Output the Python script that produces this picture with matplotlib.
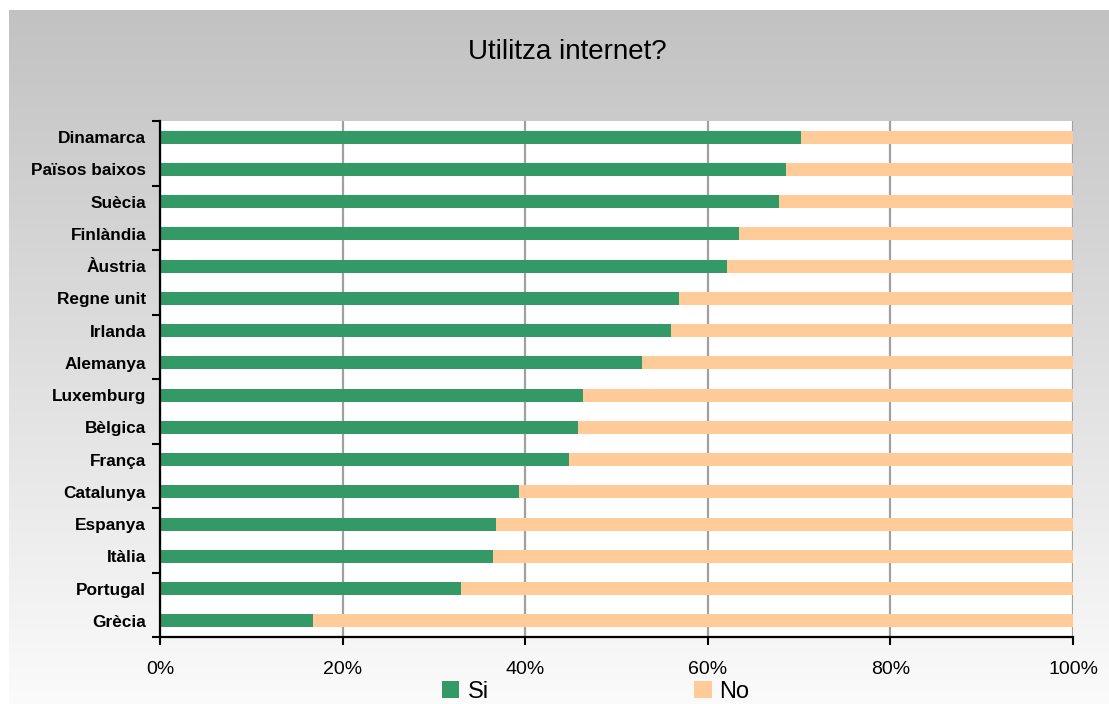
import matplotlib
matplotlib.use("Agg")
import matplotlib.pyplot as plt
import numpy as np
from matplotlib.ticker import FixedLocator, PercentFormatter

plt.rcParams['font.family'] = ['Liberation Sans', 'DejaVu Sans']

# data, top to bottom
countries = ["Dinamarca", "Països baixos", "Suècia", "Finlàndia", "Àustria",
             "Regne unit", "Irlanda", "Alemanya", "Luxemburg", "Bèlgica",
             "França", "Catalunya", "Espanya", "Itàlia", "Portugal", "Grècia"]
si = [70.2, 68.6, 67.8, 63.4, 62.1, 56.8, 56.0, 52.8,
      46.3, 45.8, 44.8, 39.3, 36.8, 36.5, 33.0, 16.8]
no = [100 - v for v in si]
x_ticks = [0, 20, 40, 60, 80, 100]

W, H = 1109, 704
fig = plt.figure(figsize=(W / 100, H / 100), dpi=100)
fig.patch.set_facecolor("white")

# gradient backdrop
bg = fig.add_axes([9 / W, 0, 1 - 9 / W, 1 - 10 / H], zorder=0)
grad = np.linspace(194, 251, 256).reshape(-1, 1) / 255.0
bg.imshow(np.dstack([grad, grad, grad]), aspect="auto", extent=[0, 1, 0, 1])
bg.set_axis_off()

ax = fig.add_axes([160 / W, 1 - 637 / H, (1073 - 160) / W, (637 - 121) / H], zorder=1)
ax.set_facecolor("white")

y = np.arange(len(countries))
ax.barh(y, si, height=0.4, color="#339966", label="Si", zorder=3)
ax.barh(y, no, left=si, height=0.4, color="#FFCC99", label="No", zorder=3)

ax.set_xlim(0, 100)
ax.set_ylim(len(countries) - 0.5, -0.5)

ax.set_xticks(x_ticks)
ax.xaxis.set_major_formatter(PercentFormatter(decimals=0))
ax.tick_params(axis="x", direction="out", length=6, width=1.5, pad=11,
               labelsize=14, colors="black")
ax.grid(axis="x", color="#a0a0a0", linewidth=1.6, zorder=1)

ax.set_yticks(y)
ax.set_yticklabels(countries, fontsize=12.4, fontweight="bold")
ax.tick_params(axis="y", which="major", length=0, pad=10)
ax.yaxis.set_minor_locator(FixedLocator(np.arange(-0.5, len(countries), 2)))
ax.tick_params(axis="y", which="minor", direction="out", length=6, width=1.5)

for s in ["top", "right"]:
    ax.spines[s].set_visible(False)
for s in ["left", "bottom"]:
    ax.spines[s].set_linewidth(1.6)
    ax.spines[s].set_zorder(4)

fig.text(567 / W, 1 - 59 / H, "Utilitza internet?", ha="center", va="baseline",
         fontsize=20)

fig.legend(loc="center left", bbox_to_anchor=(442 / W, 1 - 692 / H),
           bbox_transform=fig.transFigure, ncol=2, frameon=False, fontsize=17,
           handlelength=0.74, handleheight=0.74, handletextpad=0.34,
           columnspacing=8.7, borderpad=0, borderaxespad=0)

fig.savefig("out.png", dpi=100)
